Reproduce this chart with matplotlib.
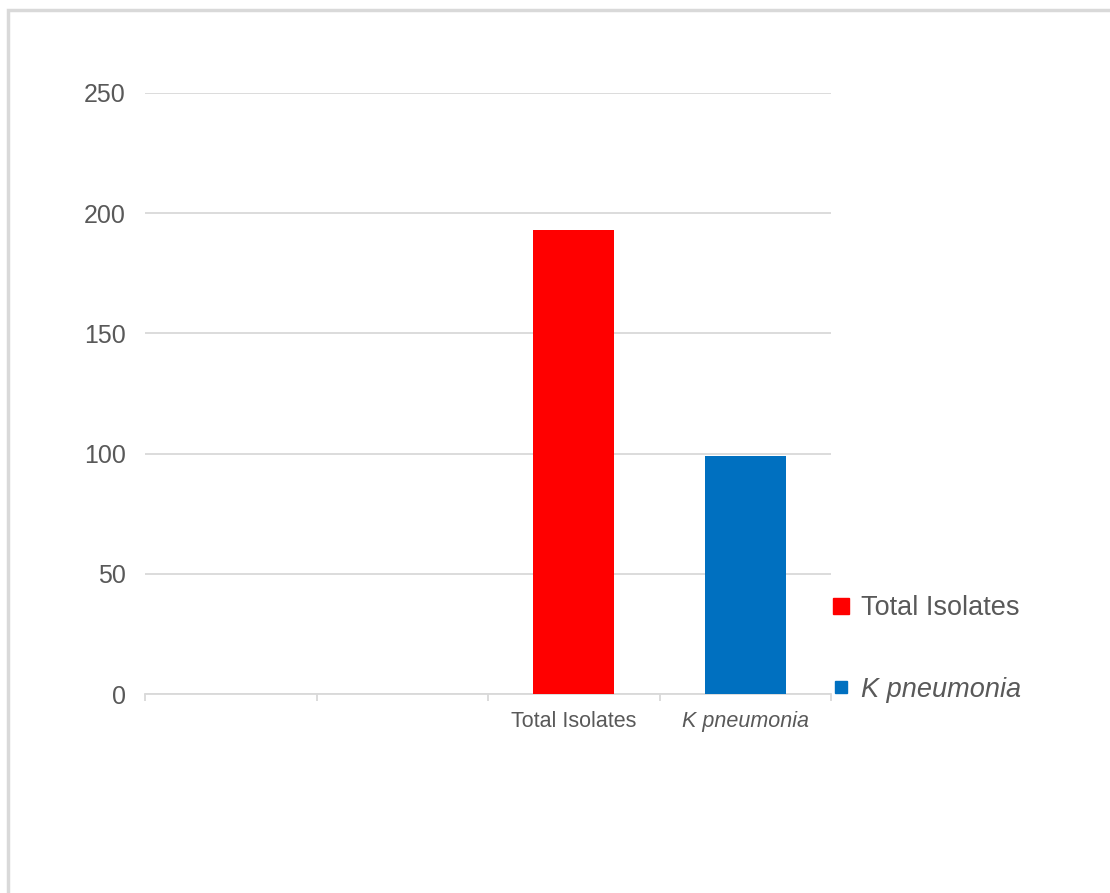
import matplotlib.pyplot as plt
from matplotlib.lines import Line2D
from matplotlib.patches import Rectangle

# данные
categories = ["", "", "Total Isolates", "K pneumonia"]
values = [0, 0, 193, 99]
colors = ["#FF0000", "#FF0000", "#FF0000", "#0070C0"]
yticks = [0, 50, 100, 150, 200, 250]

plt.rcParams['font.family'] = ['Liberation Sans', 'DejaVu Sans']
txt = "#595959"
grid = "#D9D9D9"

fig = plt.figure(figsize=(11.1, 8.93), dpi=100)
ax = fig.add_axes([145 / 1110, 1 - 694 / 893, 686 / 1110, 601 / 893])

pos = list(range(len(categories)))
ax.bar(pos[2:], values[2:], width=0.47, color=colors[2:], zorder=3)

ax.set_xlim(-0.5, len(categories) - 0.5)
ax.set_ylim(0, 250)
ax.set_yticks(yticks)
ax.set_yticklabels([str(v) for v in yticks], fontsize=18, color=txt)
ax.tick_params(axis='y', length=0, pad=14)
ax.yaxis.grid(True, color=grid, linewidth=1.3, zorder=0)

ax.set_xticks(pos)
ax.set_xticklabels(categories, fontsize=15.5, color=txt)
ax.get_xticklabels()[3].set_style('italic')
ax.set_xticks([p - 0.5 for p in pos] + [len(categories) - 0.5], minor=True)
ax.tick_params(axis='x', which='major', length=0, pad=12)
ax.tick_params(axis='x', which='minor', length=5, color=grid, width=1.3)

for s in ['top', 'right', 'left']:
    ax.spines[s].set_visible(False)
ax.spines['bottom'].set_color(grid)
ax.spines['bottom'].set_linewidth(1.3)

# легенда
handles = [
    Line2D([], [], marker='s', linestyle='', markersize=11, color=colors[2]),
    Line2D([], [], marker='s', linestyle='', markersize=8, color=colors[3]),
]
leg = fig.legend(handles, ["Total Isolates", "K pneumonia"], loc='upper left',
                 bbox_to_anchor=(803 / 1110, 1 - 571 / 893), frameon=False,
                 fontsize=19.5, labelspacing=2.05, handletextpad=0.25,
                 handlelength=1.0, labelcolor=txt)
leg.get_texts()[1].set_style('italic')

# рамка
fig.patches.append(Rectangle((8 / 1110, -0.01), 1.1, 1 - 10 / 893 + 0.01,
                             transform=fig.transFigure, fill=False,
                             edgecolor=grid, linewidth=2.5))

fig.savefig("out.png", dpi=100)
